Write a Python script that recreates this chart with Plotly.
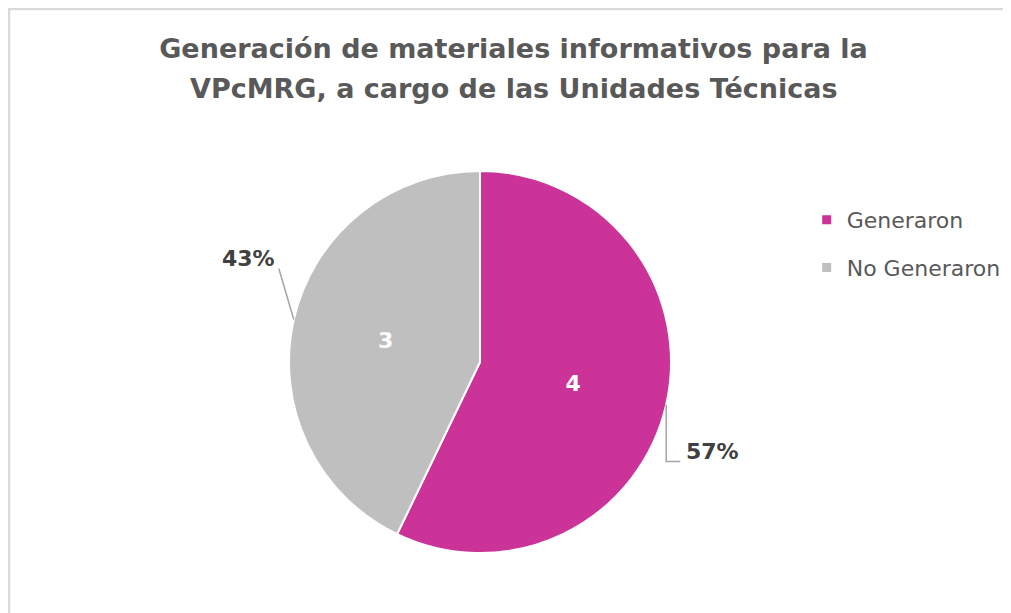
import math
import plotly.graph_objects as go

categories = ["Generaron", "No Generaron"]
values = [4, 3]
colors = ["#CC3399", "#BFBFBF"]
title_lines = ["Generación de materiales informativos para la",
               "VPcMRG, a cargo de las Unidades Técnicas"]

W, H = 1011, 613
cx, cy, r = 472, 354, 191          # pie centre/radius in figure pixels
dom_x = [(cx - r) / W, (cx + r) / W]
dom_y = [1 - (cy + r) / H, 1 - (cy - r) / H]
FONT = "DejaVu Sans"
# pixel offsets of the percentage labels from the slice edge midpoints (style)
label_offsets = [(46, 47), (-45, -61)]

fig = go.Figure()
fig.add_trace(go.Pie(
    labels=categories, values=values, sort=False, direction="clockwise", rotation=0,
    marker=dict(colors=colors, line=dict(color="white", width=2)),
    texttemplate="<b>%{value}</b>", textposition="inside", insidetextorientation="horizontal",
    textfont=dict(color="white", size=22, family=FONT),
    domain=dict(x=dom_x, y=dom_y), hoverinfo="label+value+percent", showlegend=False,
))
# legend entries
for i, (cat, col) in enumerate(zip(categories, colors)):
    fig.add_trace(go.Scatter(
        x=[None], y=[None], mode="markers", name=cat, legendgroup=f"g{i}",
        marker=dict(symbol="square", size=9, color=col), showlegend=True,
    ))

def px2paper(px, py):
    return px / W, 1 - py / H

annotations = [dict(text="<b>" + title_lines[1] + "</b>", xref="paper", yref="paper",
                    x=0.5, y=1 - 81 / H, xanchor="center", yanchor="middle", showarrow=False,
                    font=dict(family=FONT, size=27, color="#595959"))]
shapes = [dict(type="rect", xref="paper", yref="paper",
               x0=1 / W, x1=1.1, y0=-0.1, y1=1 - 1 / H,
               line=dict(color="#D9D9D9", width=2.5))]

total = sum(values)
cum = 0
for v, (ox, oy) in zip(values, label_offsets):
    mid = (cum + v / 2) / total
    cum += v
    th = 2 * math.pi * mid
    ex, ey = cx + r * math.sin(th), cy - r * math.cos(th)
    lx, ly = ex + ox, ey + oy
    pct = f"<b>{round(100 * v / total)}%</b>"
    annotations.append(dict(text=pct, xref="paper", yref="paper",
                            x=px2paper(lx, ly)[0], y=px2paper(lx, ly)[1],
                            xanchor="center", yanchor="middle", showarrow=False,
                            font=dict(family=FONT, size=22, color="#404040")))
    if math.sin(th) > 0:
        pts = [(ex, ey), (ex, ly + 10), (lx - 32, ly + 10)]
    else:
        pts = [(ex, ey), (lx + 30, ly + 10)]
    path = "M " + " L ".join(f"{px2paper(a, b)[0]},{px2paper(a, b)[1]}" for a, b in pts)
    shapes.append(dict(type="path", xref="paper", yref="paper", path=path,
                       line=dict(color="#A6A6A6", width=1.5)))

fig.update_layout(
    width=W, height=H,
    margin=dict(l=0, r=0, t=0, b=0),
    paper_bgcolor="white", plot_bgcolor="white",
    xaxis=dict(visible=False), yaxis=dict(visible=False),
    title=dict(text="<b>" + title_lines[0] + "</b>", x=0.5, xanchor="center",
               y=1 - 41 / H, yanchor="middle",
               font=dict(family=FONT, size=27, color="#595959")),
    annotations=annotations,
    legend=dict(x=0.79, y=1 - 191 / H, xanchor="left", yanchor="top",
                font=dict(family=FONT, size=22, color="#595959"),
                itemwidth=30, tracegroupgap=16, traceorder="grouped",
                bgcolor="rgba(0,0,0,0)"),
    shapes=shapes,
)

fig.write_html("out.html")
